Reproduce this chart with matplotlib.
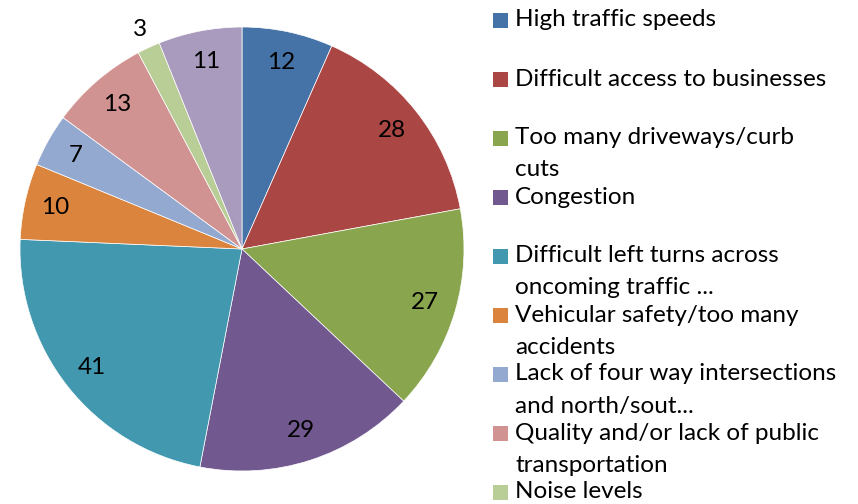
import matplotlib
matplotlib.use("Agg")
import matplotlib.pyplot as plt
from matplotlib.patches import Rectangle

plt.rcParams['font.family'] = ['Lato', 'DejaVu Sans']

values = [12, 28, 27, 29, 41, 10, 7, 13, 3, 11]
colors = ['#4572A7', '#AA4643', '#89A54E', '#71588F', '#4198AF',
          '#DB843D', '#93A9CF', '#D19392', '#B9CD96', '#A99BBD']
# legend entries that fit in the picture (last one is cut off in the original)
labels = ['High traffic speeds',
          'Difficult access to businesses',
          'Too many driveways/curb\ncuts',
          'Congestion',
          'Difficult left turns across\noncoming traffic ...',
          'Vehicular safety/too many\naccidents',
          'Lack of four way intersections\nand north/sout...',
          'Quality and/or lack of public\ntransportation',
          'Noise levels']

W, H = 858, 504
fig = plt.figure(figsize=(W / 100, H / 100), dpi=100)

# pie: centre (242, 249) px, radius 222 px
cx, cy, r = 242, 249, 222
ax = fig.add_axes([(cx - r) / W, (H - cy - r) / H, 2 * r / W, 2 * r / H])
wedges, texts = ax.pie(values, colors=colors, startangle=90, counterclock=False,
                       labels=[str(v) for v in values], labeldistance=0.86,
                       wedgeprops=dict(edgecolor='white', linewidth=0.5),
                       textprops=dict(fontsize=17.5, color='black', ha='center', va='center'))
# small slice label sits outside
px, py = texts[8].get_position()
texts[8].set_position((px / 0.86 * 1.09, py / 0.86 * 1.09))
ax.set_xlim(-1, 1)
ax.set_ylim(-1, 1)
ax.set_aspect('equal')
ax.axis('off')

# legend drawn in pixel coordinates
lg = fig.add_axes([0, 0, 1, 1])
lg.set_xlim(0, W)
lg.set_ylim(H, 0)
lg.axis('off')
for i, lab in enumerate(labels):
    y0 = 20 + 59 * i
    lg.add_patch(Rectangle((493, y0 - 7.5), 15, 15, facecolor=colors[i], edgecolor='none'))
    for k, line in enumerate(lab.split('\n')):
        lg.text(515, y0 + 32 * k, line, fontsize=17.5, va='center', ha='left', color='black')

fig.savefig('out.png', dpi=100)
